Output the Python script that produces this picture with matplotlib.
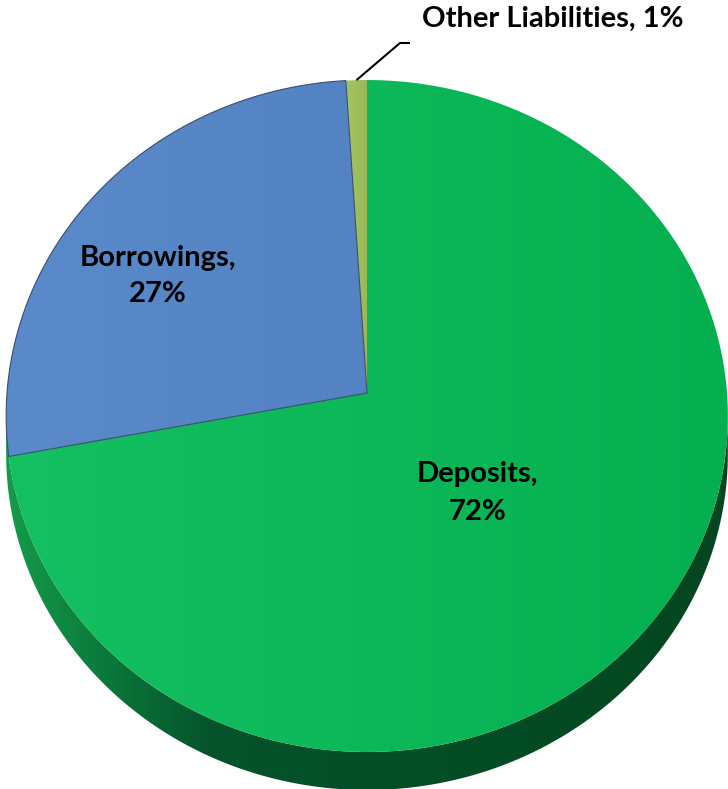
import numpy as np
import matplotlib
matplotlib.use("Agg")
import matplotlib.pyplot as plt
from matplotlib.patches import Polygon
from matplotlib.colors import LinearSegmentedColormap

# Liability mix (percent of total)
labels = ["Deposits", "Borrowings", "Other Liabilities"]
shares = [72, 27, 1]
face_left = ["#14c061", "#5a8ac9", "#a4c463"]
face_right = ["#03af4f", "#5383c3", "#99b958"]

W, H = 728, 789
fig = plt.figure(figsize=(W / 100, H / 100), dpi=100)
ax = fig.add_axes([0, 0, 1, 1])
ax.set_xlim(0, W)
ax.set_ylim(H, 0)
ax.axis("off")

# tilted-disc projection (screen pixels, y down)
cx, cy = 367.0, 393.0
A, B, k = 334.4, 360.0, 0.0685
depth = 38.0


def rim(theta):
    """Point on the disc edge; theta clockwise from 12 o'clock."""
    u, v = np.sin(theta), np.cos(theta)
    s = 1 + k * v
    return cx + B * u / s, cy - A * v / s


def hgrad(cols, poly, z):
    cmap = LinearSegmentedColormap.from_list("g", cols)
    xs, ys = poly.get_xy()[:, 0], poly.get_xy()[:, 1]
    grad = np.linspace(0, 1, 256).reshape(1, -1)
    im = ax.imshow(grad, cmap=cmap, aspect="auto",
                   extent=(xs.min(), xs.max(), ys.max(), ys.min()),
                   zorder=z, interpolation="bilinear")
    im.set_clip_path(poly)


# side wall (front half of the disc)
t1 = np.arccos(-k)
t2 = 2 * np.pi - t1
ts = np.linspace(t1, t2, 300)
rx, ry = rim(ts)
side_xy = np.concatenate([np.column_stack([rx, ry]),
                          np.column_stack([rx[::-1], ry[::-1] + depth])])
side = Polygon(side_xy, closed=True, facecolor="none", edgecolor="none")
ax.add_patch(side)
hgrad([(0.0, "#149c4b"), (0.12, "#0b7d3c"), (0.28, "#05532b"),
       (1.0, "#03461f")], side, 1)

# top faces of the slices
cum = np.concatenate([[0], np.cumsum(shares)]) / np.sum(shares) * 2 * np.pi
for i, name in enumerate(labels):
    a0, a1 = cum[i], cum[i + 1]
    ta = np.linspace(a0, a1, max(int((a1 - a0) / (2 * np.pi) * 600), 8))
    px, py = rim(ta)
    xy = np.vstack([[cx, cy], np.column_stack([px, py])])
    poly = Polygon(xy, closed=True, facecolor="none", edgecolor="none")
    ax.add_patch(poly)
    hgrad([face_left[i], face_right[i]], poly, 2)
    if name == "Borrowings":
        ax.add_patch(Polygon(xy, closed=True, facecolor="none",
                             edgecolor="#3b4e6b", linewidth=0.8, zorder=3))

# labels
font = dict(family=["Lato", "DejaVu Sans"], fontweight="bold", fontsize=21,
            color="black")
ax.text(477, 493, f"{labels[0]},\n{shares[0]}%", ha="center", va="center",
        linespacing=1.6, zorder=5, **font)
ax.text(158, 276, f"{labels[1]},\n{shares[1]}%", ha="center", va="center",
        linespacing=1.5, zorder=5, **font)
ax.text(422, 19, f"{labels[2]}, {shares[2]}%", ha="left", va="center",
        zorder=5, **font)

# leader line for the thin slice
mx, my = rim((cum[2] + cum[3]) / 2)
ax.plot([mx, 400, 410], [my, 43, 43], color="black", lw=1.5,
        solid_capstyle="butt", zorder=4)

fig.savefig("out.png", dpi=100)
